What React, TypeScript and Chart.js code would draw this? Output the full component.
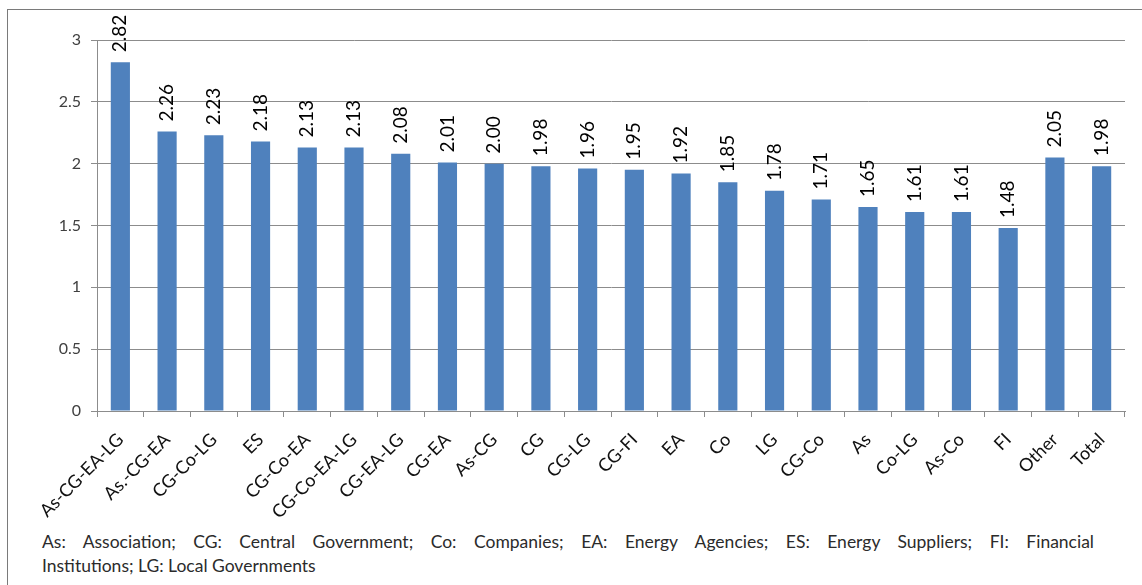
import React, { useEffect, useRef } from "react";
import { Chart, registerables } from "chart.js";

Chart.register(...registerables);

const categories = [
  "As-CG-EA-LG", "As.-CG-EA", "CG-Co-LG", "ES", "CG-Co-EA", "CG-Co-EA-LG", "CG-EA-LG",
  "CG-EA", "As-CG", "CG", "CG-LG", "CG-FI", "EA", "Co", "LG", "CG-Co", "As", "Co-LG",
  "As-Co", "FI", "Other", "Total",
];
const values = [
  2.82, 2.26, 2.23, 2.18, 2.13, 2.13, 2.08, 2.01, 2.0, 1.98, 1.96, 1.95, 1.92, 1.85, 1.78,
  1.71, 1.65, 1.61, 1.61, 1.48, 2.05, 1.98,
];
const yMin = 0;
const yMax = 3;
const yStep = 0.5;
const footnoteLine1 =
  "As: Association; CG: Central Government; Co: Companies; EA: Energy Agencies; ES: Energy Suppliers;   FI: Financial";
const footnoteLine2 = "Institutions; LG: Local Governments";

const FONT = "Lato, 'Open Sans', 'DejaVu Sans', sans-serif";
const GRID = "#8c8c8c";

const valueLabels = {
  id: "valueLabels",
  afterDatasetsDraw(chart: any) {
    const ctx = chart.ctx;
    const meta = chart.getDatasetMeta(0);
    ctx.save();
    ctx.font = `19px ${FONT}`;
    ctx.fillStyle = "#000000";
    ctx.textAlign = "left";
    ctx.textBaseline = "middle";
    meta.data.forEach((bar: any, i: number) => {
      ctx.save();
      ctx.translate(bar.x, bar.y - 10);
      ctx.rotate(-Math.PI / 2);
      ctx.fillText(values[i].toFixed(2), 0, 0);
      ctx.restore();
    });
    ctx.restore();
  },
};

export default function App() {
  const ref = useRef<HTMLCanvasElement>(null);

  useEffect(() => {
    if (!ref.current) return;
    const chart = new Chart(ref.current, {
      type: "bar",
      data: {
        labels: categories,
        datasets: [
          {
            data: values,
            backgroundColor: "#4F81BD",
            borderWidth: 0,
            barPercentage: 0.41,
            categoryPercentage: 1,
          },
        ],
      },
      options: {
        responsive: false,
        animation: false,
        devicePixelRatio: 1,
        layout: { padding: { left: 0, right: 17, top: 40, bottom: 0 } },
        plugins: { legend: { display: false }, tooltip: { enabled: false } },
        scales: {
          x: {
            ticks: {
              maxRotation: 45,
              minRotation: 45,
              autoSkip: false,
              font: { family: FONT, size: 18 },
              color: "#111111",
              padding: 12,
            },
            grid: {
              offset: true,
              drawOnChartArea: false,
              drawTicks: true,
              tickLength: 6,
              color: GRID,
            },
            border: { color: GRID, width: 1 },
            afterFit: (s: any) => {
              s.height = 520 - 411;
            },
          },
          y: {
            min: yMin,
            max: yMax,
            ticks: {
              stepSize: yStep,
              font: { family: FONT, size: 16 },
              color: "#404040",
              padding: 10,
              callback: (v: any) => String(v),
            },
            grid: { color: GRID, tickLength: 6, lineWidth: 1 },
            border: { color: GRID, width: 1 },
            afterFit: (s: any) => {
              s.width = 97;
            },
          },
        },
      },
      plugins: [valueLabels],
    });
    return () => chart.destroy();
  }, []);

  return (
    <div
      style={{
        position: "absolute",
        left: 0,
        top: 0,
        width: 1142,
        height: 585,
        overflow: "hidden",
        background: "#ffffff",
      }}
    >
      <div
        style={{
          position: "absolute",
          left: 7,
          top: 9,
          width: 1300,
          height: 800,
          border: "1px solid #7a7a7a",
        }}
      />
      <canvas
        ref={ref}
        width={1142}
        height={520}
        style={{ position: "absolute", left: 0, top: 0, width: 1142, height: 520 }}
      />
      <div
        style={{
          position: "absolute",
          left: 42,
          top: 530,
          width: 1052,
          fontFamily: FONT,
          fontSize: 17.5,
          lineHeight: "24px",
          color: "#2b2b2b",
        }}
      >
        <div style={{ textAlign: "justify", textAlignLast: "justify" }}>{footnoteLine1}</div>
        <div>{footnoteLine2}</div>
      </div>
    </div>
  );
}
